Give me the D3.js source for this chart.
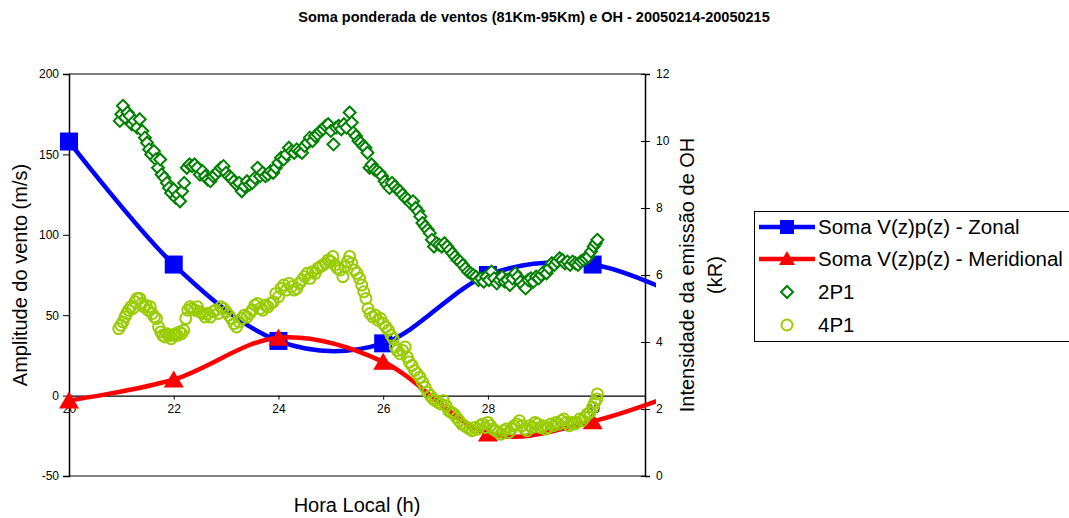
<!DOCTYPE html>
<html>
<head>
<meta charset="utf-8">
<script src="https://cdn.jsdelivr.net/npm/d3@7"></script>
<style>
  html, body { margin: 0; padding: 0; background: #fff; }
  svg { display: block; font-family: "Liberation Sans", Arial, sans-serif; }
</style>
</head>
<body>
<svg id="chart" width="1069" height="518"></svg>
<script>
// Wind sums (left axis, m/s), one value per local hour
const windHours = [20, 22, 24, 26, 28, 30, 32];
const zonal = [158, 81.5, 34, 32.5, 75, 81.5, 57];
const meridional = [-3, 10, 36, 21, -23.5, -16, 6];

// OH emission intensities (right axis, kR): [local hour, value]
const p2P1 = [
  [20.97,10.6],[21.00,10.8],[21.03,11.05],[21.07,10.7],[21.12,10.85],[21.16,10.75],[21.20,10.5],[21.25,10.6],
  [21.30,10.4],[21.35,10.65],[21.40,10.3],[21.45,10.1],[21.49,9.95],[21.53,9.75],[21.57,9.6],[21.62,9.7],
  [21.66,9.45],[21.70,9.2],[21.74,9.45],[21.77,9.0],[21.82,8.9],[21.87,8.75],[21.91,8.6],[21.95,8.45],
  [22.00,8.55],[22.04,8.3],[22.08,8.4],[22.12,8.2],[22.16,8.5],[22.20,8.75],[22.25,9.2],[22.30,9.3],
  [22.35,9.25],[22.40,9.3],[22.45,9.2],[22.50,9.0],[22.55,9.1],[22.60,8.95],[22.65,8.85],[22.70,8.8],
  [22.75,8.95],[22.80,9.0],[22.85,9.1],[22.90,9.2],[22.95,9.25],[23.00,9.05],[23.05,8.95],[23.10,8.9],
  [23.15,8.8],[23.20,8.7],[23.25,8.75],[23.30,8.5],[23.35,8.65],[23.40,8.8],[23.45,8.7],[23.50,8.75],
  [23.55,8.9],[23.60,9.2],[23.65,8.95],[23.70,9.05],[23.75,8.95],[23.80,9.0],[23.85,9.1],[23.90,9.05],
  [23.95,9.2],[24.00,9.35],[24.05,9.5],[24.10,9.45],[24.15,9.6],[24.20,9.8],[24.25,9.7],[24.30,9.65],
  [24.35,9.75],[24.40,9.7],[24.45,9.65],[24.50,9.85],[24.55,9.95],[24.60,10.1],[24.65,10.0],[24.70,10.15],
  [24.75,10.2],[24.80,10.3],[24.85,10.35],[24.90,10.45],[24.95,10.5],[25.00,10.3],[25.05,9.9],[25.10,10.4],
  [25.15,10.45],[25.20,10.35],[25.25,10.5],[25.30,10.4],[25.36,10.85],[25.40,10.55],[25.43,10.25],[25.48,10.15],
  [25.53,10.0],[25.57,9.95],[25.62,9.85],[25.66,9.8],[25.70,9.65],[25.74,9.2],[25.78,9.3],[25.83,9.15],
  [25.88,9.1],[25.93,9.05],[25.98,8.95],[26.03,8.8],[26.07,8.7],[26.12,8.6],[26.17,8.75],[26.22,8.65],
  [26.27,8.55],[26.32,8.5],[26.37,8.4],[26.42,8.3],[26.47,8.25],[26.52,8.15],[26.57,8.2],[26.62,8.0],
  [26.67,7.9],[26.71,7.75],[26.75,7.55],[26.80,7.45],[26.85,7.35],[26.89,7.25],[26.93,7.05],[26.97,6.85],
  [27.02,6.95],[27.07,6.9],[27.12,6.85],[27.17,6.95],[27.22,6.85],[27.27,6.75],[27.32,6.65],[27.37,6.55],
  [27.42,6.45],[27.47,6.4],[27.52,6.3],[27.57,6.2],[27.62,6.1],[27.67,6.05],[27.72,6.0],[27.77,5.95],
  [27.82,5.85],[27.87,5.9],[27.92,5.8],[27.97,5.95],[28.02,5.85],[28.07,6.1],[28.12,5.9],[28.17,5.75],
  [28.22,5.85],[28.27,5.95],[28.32,5.8],[28.37,5.85],[28.42,5.7],[28.47,5.9],[28.52,6.05],[28.57,5.95],
  [28.62,5.8],[28.67,5.7],[28.72,5.6],[28.77,5.85],[28.82,5.9],[28.87,5.8],[28.92,5.95],[28.97,5.9],
  [29.02,6.0],[29.07,6.1],[29.12,6.05],[29.17,6.2],[29.22,6.35],[29.27,6.3],[29.32,6.4],[29.37,6.5],
  [29.42,6.45],[29.47,6.35],[29.52,6.4],[29.57,6.3],[29.62,6.4],[29.67,6.35],[29.72,6.3],[29.77,6.4],
  [29.82,6.45],[29.87,6.5],[29.92,6.55],[29.97,6.7],[30.02,6.85],[30.06,6.95],[30.09,7.05]
];

const p4P1 = [
  [20.95,4.4],[20.99,4.5],[21.03,4.6],[21.07,4.75],[21.10,4.85],[21.14,4.95],[21.18,5.05],[21.22,5.0],
  [21.26,5.2],[21.30,5.3],[21.35,5.3],[21.39,5.15],[21.43,5.05],[21.47,5.1],[21.51,4.95],[21.55,5.05],
  [21.59,4.85],[21.63,4.75],[21.67,4.7],[21.71,4.45],[21.75,4.3],[21.79,4.2],[21.83,4.15],[21.87,4.25],
  [21.91,4.2],[21.95,4.1],[21.99,4.2],[22.03,4.25],[22.07,4.2],[22.11,4.3],[22.15,4.25],[22.19,4.35],
  [22.23,4.7],[22.27,4.95],[22.31,5.05],[22.35,5.0],[22.40,4.95],[22.45,5.05],[22.50,4.9],[22.55,4.85],
  [22.60,4.75],[22.65,4.85],[22.70,4.75],[22.75,4.9],[22.80,4.95],[22.85,4.85],[22.90,5.05],[22.95,5.0],
  [23.00,4.9],[23.05,4.8],[23.10,4.7],[23.15,4.55],[23.20,4.45],[23.25,4.6],[23.30,4.7],[23.35,4.8],
  [23.40,4.75],[23.45,4.85],[23.50,4.95],[23.55,5.1],[23.60,5.15],[23.65,5.0],[23.70,4.95],[23.75,5.1],
  [23.80,5.05],[23.85,5.15],[23.90,5.2],[23.95,5.45],[24.00,5.35],[24.05,5.6],[24.10,5.7],[24.15,5.55],
  [24.20,5.75],[24.25,5.65],[24.30,5.55],[24.35,5.6],[24.40,5.75],[24.45,5.85],[24.50,5.95],[24.55,6.05],
  [24.60,5.9],[24.65,6.1],[24.70,6.05],[24.75,6.2],[24.80,6.25],[24.85,6.3],[24.90,6.35],[24.95,6.45],
  [25.00,6.4],[25.04,6.55],[25.08,6.3],[25.13,6.2],[25.18,6.15],[25.23,5.95],[25.27,6.25],[25.32,6.4],
  [25.36,6.55],[25.40,6.35],[25.45,6.15],[25.50,6.05],[25.55,5.9],[25.59,5.7],[25.63,5.5],[25.67,5.3],
  [25.71,5.0],[25.75,4.85],[25.80,4.75],[25.85,4.8],[25.90,4.65],[25.95,4.7],[26.00,4.55],[26.05,4.45],
  [26.10,4.35],[26.15,4.2],[26.19,4.1],[26.23,3.85],[26.27,3.75],[26.32,3.65],[26.37,3.75],[26.42,3.85],
  [26.46,3.55],[26.50,3.4],[26.55,3.3],[26.60,3.15],[26.65,3.05],[26.70,2.95],[26.75,2.8],[26.80,2.65],
  [26.85,2.5],[26.90,2.4],[26.95,2.3],[27.00,2.25],[27.05,2.2],[27.10,2.15],[27.15,2.25],[27.20,2.1],
  [27.25,1.95],[27.30,1.9],[27.35,1.85],[27.40,1.75],[27.45,1.65],[27.50,1.55],[27.55,1.5],[27.60,1.45],
  [27.65,1.4],[27.70,1.35],[27.75,1.45],[27.80,1.4],[27.85,1.5],[27.90,1.55],[27.95,1.45],[28.00,1.6],
  [28.05,1.5],[28.10,1.4],[28.15,1.35],[28.20,1.3],[28.25,1.25],[28.30,1.35],[28.35,1.4],[28.40,1.3],
  [28.45,1.4],[28.50,1.5],[28.55,1.55],[28.60,1.65],[28.65,1.5],[28.70,1.4],[28.75,1.35],[28.80,1.5],
  [28.85,1.45],[28.90,1.6],[28.95,1.55],[29.00,1.45],[29.05,1.5],[29.10,1.4],[29.15,1.45],[29.20,1.55],
  [29.25,1.5],[29.30,1.6],[29.35,1.55],[29.40,1.65],[29.45,1.7],[29.50,1.6],[29.55,1.5],[29.60,1.6],
  [29.65,1.55],[29.70,1.6],[29.75,1.7],[29.80,1.65],[29.85,1.75],[29.90,1.85],[29.95,1.9],[30.00,2.05],
  [30.04,2.2],[30.08,2.3],[30.09,2.45]
];

const hourTicks = [20, 22, 24, 26, 28, 30];
const windTicks = [-50, 0, 50, 100, 150, 200];
const ohTicks = [0, 2, 4, 6, 8, 10, 12];

const title = "Soma ponderada de ventos (81Km-95Km) e OH - 20050214-20050215";
const xTitle = "Hora Local (h)";
const yLeftTitle = "Amplitude do vento (m/s)";
const yRightTitle = ["Intensidade da emissão de OH", "(kR)"];
const legendNames = ["Soma V(z)p(z) - Zonal", "Soma V(z)p(z) - Meridional", "2P1", "4P1"];

const C = { zonal: "#0000FF", merid: "#FF0000", p2: "#008000", p4: "#99CC00" };

const svg = d3.select("#chart");
const plotL = 69, plotR = 645, plotT = 74, plotB = 476;

const x = d3.scaleLinear().domain([20, 31]).range([plotL, plotR]);
const yL = d3.scaleLinear().domain([-50, 200]).range([plotB, plotT]);
const yR = d3.scaleLinear().domain([0, 12]).range([plotB, plotT]);

// Title
svg.append("text").attr("x", 534).attr("y", 22).attr("text-anchor", "middle")
  .attr("font-size", 14.5).attr("font-weight", "bold").text(title);

// Plot frame: grey top and bottom edges
svg.append("line").attr("x1", plotL).attr("x2", plotR).attr("y1", plotT).attr("y2", plotT)
  .attr("stroke", "#808080").attr("stroke-width", 2);
svg.append("line").attr("x1", plotL).attr("x2", plotR).attr("y1", plotB).attr("y2", plotB)
  .attr("stroke", "#808080").attr("stroke-width", 2);

const plain = d => String(d);

// Left axis
const gL = svg.append("g").attr("transform", `translate(${plotL},0)`)
  .call(d3.axisLeft(yL).tickValues(windTicks).tickFormat(plain).tickSizeOuter(0).tickSize(6).tickPadding(4));
// Right axis (ticks cross the line)
const gR = svg.append("g").attr("transform", `translate(${plotR},0)`)
  .call(d3.axisRight(yR).tickValues(ohTicks).tickFormat(plain).tickSizeOuter(0).tickSize(5).tickPadding(6));
gR.selectAll(".tick line").attr("x1", -4).attr("x2", 5);
// Bottom axis on the zero line
const gB = svg.append("g").attr("transform", `translate(0,${yL(0)})`)
  .call(d3.axisBottom(x).tickValues(hourTicks).tickFormat(plain).tickSizeOuter(0).tickSize(4).tickPadding(5));

[gL, gR, gB].forEach(g => {
  g.select(".domain").attr("stroke", "#000").attr("stroke-width", 1.5);
  g.selectAll(".tick line").attr("stroke", "#000").attr("stroke-width", 1);
  g.selectAll(".tick text").attr("font-size", 12).attr("fill", "#000")
    .attr("font-family", "'Liberation Sans', Arial, sans-serif");
});
gB.select(".domain").attr("stroke-width", 1.2);

// Axis titles
svg.append("text").attr("transform", `translate(27,${(plotT + plotB) / 2}) rotate(-90)`)
  .attr("text-anchor", "middle").attr("font-size", 20).text(yLeftTitle);
svg.append("text").attr("transform", `translate(694,${(plotT + plotB) / 2}) rotate(-90)`)
  .attr("text-anchor", "middle").attr("font-size", 20).text(yRightTitle[0]);
svg.append("text").attr("transform", `translate(722,${(plotT + plotB) / 2}) rotate(-90)`)
  .attr("text-anchor", "middle").attr("font-size", 20).text(yRightTitle[1]);
svg.append("text").attr("x", 357).attr("y", 512).attr("text-anchor", "middle")
  .attr("font-size", 20).text(xTitle);

// Clip so the smoothed lines stop just past the right axis
svg.append("defs").append("clipPath").attr("id", "plotClip")
  .append("rect").attr("x", plotL - 15).attr("y", plotT - 15).attr("width", 656 - plotL + 15).attr("height", plotB - plotT + 30);

const plot = svg.append("g").attr("clip-path", "url(#plotClip)");

const smooth = d3.curveCatmullRom.alpha(0);
const windLine = d3.line().x(d => x(d[0])).y(d => yL(d[1])).curve(smooth);

const zonalPts = windHours.map((h, i) => [h, zonal[i]]);
const meridPts = windHours.map((h, i) => [h, meridional[i]]);

const sq = 18;
function drawSquares(g, pts, color) {
  g.selectAll(null).data(pts).enter().append("rect")
    .attr("x", d => x(d[0]) - sq / 2).attr("y", d => yL(d[1]) - sq / 2)
    .attr("width", sq).attr("height", sq).attr("fill", color);
}
function triPath(cx, cy) {
  return `M${cx},${cy - 9}L${cx + 10},${cy + 8}L${cx - 10},${cy + 8}Z`;
}
function drawTriangles(g, pts, color) {
  g.selectAll(null).data(pts).enter().append("path")
    .attr("d", d => triPath(x(d[0]), yL(d[1]))).attr("fill", color);
}
function diamondPath(cx, cy, r) {
  return `M${cx},${cy - r}L${cx + r},${cy}L${cx},${cy + r}L${cx - r},${cy}Z`;
}

// Zonal
plot.append("path").datum(zonalPts).attr("d", windLine)
  .attr("fill", "none").attr("stroke", C.zonal).attr("stroke-width", 4.5);
drawSquares(plot, zonalPts.filter(d => d[0] <= 31), C.zonal);

// Meridional
plot.append("path").datum(meridPts).attr("d", windLine)
  .attr("fill", "none").attr("stroke", C.merid).attr("stroke-width", 4.5);
drawTriangles(plot, meridPts.filter(d => d[0] <= 31), C.merid);

// 2P1 diamonds (white-filled)
plot.append("g").selectAll("path").data(p2P1).enter().append("path")
  .attr("d", d => diamondPath(x(d[0]), yR(d[1]), 6))
  .attr("fill", "#fff").attr("stroke", C.p2).attr("stroke-width", 2);

// 4P1 circles
plot.append("g").selectAll("circle").data(p4P1).enter().append("circle")
  .attr("cx", d => x(d[0])).attr("cy", d => yR(d[1])).attr("r", 5.5)
  .attr("fill", "none").attr("stroke", C.p4).attr("stroke-width", 2);

// Legend
const lg = svg.append("g");
lg.append("rect").attr("x", 754.5).attr("y", 211.5).attr("width", 320).attr("height", 130)
  .attr("fill", "#fff").attr("stroke", "#000").attr("stroke-width", 1);
const rowsY = [227, 259, 292, 325];
const mx = 787;
lg.append("line").attr("x1", 759).attr("x2", 815).attr("y1", rowsY[0]).attr("y2", rowsY[0])
  .attr("stroke", C.zonal).attr("stroke-width", 4.5);
lg.append("rect").attr("x", mx - 7).attr("y", rowsY[0] - 7).attr("width", 14).attr("height", 14).attr("fill", C.zonal);
lg.append("line").attr("x1", 759).attr("x2", 815).attr("y1", rowsY[1]).attr("y2", rowsY[1])
  .attr("stroke", C.merid).attr("stroke-width", 4.5);
lg.append("path").attr("d", `M${mx},${rowsY[1] - 8}L${mx + 8},${rowsY[1] + 6}L${mx - 8},${rowsY[1] + 6}Z`).attr("fill", C.merid);
lg.append("path").attr("d", diamondPath(mx, rowsY[2], 6)).attr("fill", "none").attr("stroke", C.p2).attr("stroke-width", 2);
lg.append("circle").attr("cx", mx).attr("cy", rowsY[3]).attr("r", 5.5).attr("fill", "none").attr("stroke", C.p4).attr("stroke-width", 2);
legendNames.forEach((n, i) => {
  lg.append("text").attr("x", 818).attr("y", rowsY[i] + 7).attr("font-size", 20.5).text(n);
});
</script>
</body>
</html>
